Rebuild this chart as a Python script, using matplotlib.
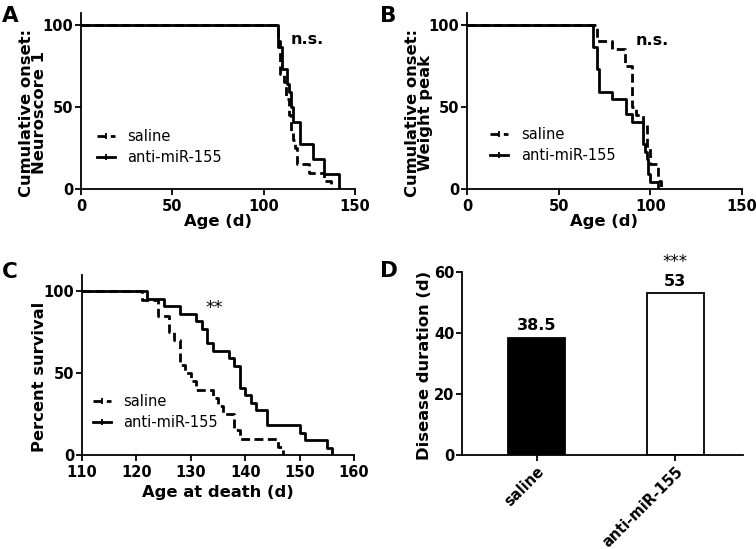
import matplotlib
matplotlib.use('Agg')
import matplotlib.pyplot as plt
from matplotlib.lines import Line2D

plt.rcParams['font.family'] = ['DejaVu Sans']
plt.rcParams['font.weight'] = 'bold'
plt.rcParams['axes.labelweight'] = 'bold'

# ---------------- data ----------------
# Panel A: cumulative onset, Neuroscore 1 (% remaining)
neuro_saline_days = [108, 109, 111, 112, 114, 115, 116, 117, 118, 125, 133, 137]
neuro_saline_pct = [90, 70, 65, 55, 45, 35, 30, 25, 15, 10, 5, 0]
neuro_anti_days = [108, 110, 113, 114, 115, 116, 120, 127, 133, 141]
neuro_anti_pct = [86.4, 72.7, 63.6, 59.1, 50.0, 40.9, 27.3, 18.2, 9.1, 0]

# Panel B: cumulative onset, weight peak
weight_saline_days = [71, 79, 86, 90, 92, 96, 98, 100, 104, 106]
weight_saline_pct = [90, 85, 75, 50, 45, 40, 25, 15, 5, 0]
weight_anti_days = [69, 71, 72, 79, 87, 90, 96, 97, 98, 99, 100, 104]
weight_anti_pct = [86.4, 72.7, 59.1, 54.5, 45.5, 40.9, 27.3, 22.7, 18.2, 9.1, 4.5, 0]

# Panel C: survival
surv_saline_days = [121, 124, 126, 127, 128, 129, 130, 131, 134, 135, 136, 138, 139, 146, 147]
surv_saline_pct = [95, 85, 75, 70, 55, 50, 45, 40, 35, 30, 25, 15, 10, 5, 0]
surv_anti_days = [122, 125, 128, 131, 132, 133, 134, 137, 138, 139, 140, 141, 142, 144, 150, 151, 155, 156]
surv_anti_pct = [95.5, 90.9, 86.4, 81.8, 77.3, 68.2, 63.6, 59.1, 54.5, 40.9, 36.4, 31.8, 27.3, 18.2,
                 13.6, 9.1, 4.5, 0]

# Panel D: disease duration
groups = ['saline', 'anti-miR-155']
duration = [38.5, 53]
duration_labels = ['38.5', '53']
duration_sig = ['', '***']

series_names = ['saline', 'anti-miR-155']

# ---------------- figure ----------------
W, H = 756, 549
fig = plt.figure(figsize=(W / 100, H / 100), dpi=100)


def px_axes(left, top, right, bottom):
    return fig.add_axes([left / W, 1 - bottom / H, (right - left) / W, (bottom - top) / H])


axA = px_axes(81, 13, 355, 189)
axB = px_axes(467, 13, 742, 189)
axC = px_axes(82, 275, 354, 455)
axD = px_axes(462, 272, 743, 455)

LW = 2.0
DASH = (0, (3.2, 1.6))
FS = 11.8
TFS = 10.5


def style(ax):
    for s in ['top', 'right']:
        ax.spines[s].set_visible(False)
    for s in ['left', 'bottom']:
        ax.spines[s].set_linewidth(1.3)
    ax.tick_params(direction='out', length=4.5, width=1.3, labelsize=TFS)
    ax.tick_params(axis='y', pad=1)
    ax.tick_params(axis='x', pad=3)


def km(ax, start, days, pct, **kw):
    xs = [start] + list(days)
    ys = [100] + list(pct)
    ax.step(xs, ys, where='post', color='black', lw=LW, **kw)


def legend(ax, anchor):
    handles = [Line2D([0], [0], color='black', lw=LW, ls=DASH, marker='|', markersize=4, markeredgewidth=1.3),
               Line2D([0], [0], color='black', lw=LW, marker='|', markersize=4, markeredgewidth=1.3)]
    ax.legend(handles, series_names, loc='center left', bbox_to_anchor=anchor, frameon=False,
              handlelength=1.25, handletextpad=0.85, labelspacing=0.4,
              prop={'weight': 'normal', 'size': 10.5},
              borderaxespad=0, borderpad=0)


# Panel A
style(axA)
km(axA, 0, neuro_saline_days, neuro_saline_pct, ls=DASH, zorder=2)
km(axA, 0, neuro_anti_days, neuro_anti_pct, zorder=3)
axA.set_xlim(0, 150)
axA.set_ylim(0, 107)
axA.set_xticks([0, 50, 100, 150])
axA.set_yticks([0, 50, 100])
axA.set_xlabel('Age (d)', fontsize=FS, labelpad=0)
axA.set_ylabel('Cumulative onset:\nNeuroscore 1', fontsize=FS, linespacing=0.85)
axA.yaxis.set_label_coords(-0.124, 0.432)
axA.text(124, 91, 'n.s.', ha='center', va='center', fontsize=11.5)
legend(axA, (0.058, 0.24))

# Panel B
style(axB)
km(axB, 0, weight_saline_days, weight_saline_pct, ls=DASH, zorder=2)
km(axB, 0, weight_anti_days, weight_anti_pct, zorder=3)
axB.set_xlim(0, 150)
axB.set_ylim(0, 107)
axB.set_xticks([0, 50, 100, 150])
axB.set_yticks([0, 50, 100])
axB.set_xlabel('Age (d)', fontsize=FS, labelpad=0)
axB.set_ylabel('Cumulative onset:\nWeight peak', fontsize=FS, linespacing=0.85)
axB.yaxis.set_label_coords(-0.124, 0.432)
axB.text(101, 90, 'n.s.', ha='center', va='center', fontsize=11.5)
legend(axB, (0.084, 0.25))

# Panel C
style(axC)
km(axC, 110, surv_saline_days, surv_saline_pct, ls=DASH, zorder=2)
km(axC, 110, surv_anti_days, surv_anti_pct, zorder=3)
axC.set_xlim(110, 160)
axC.set_ylim(0, 110)
axC.set_xticks([110, 120, 130, 140, 150, 160])
axC.set_yticks([0, 50, 100])
axC.set_xlabel('Age at death (d)', fontsize=FS, labelpad=3)
axC.set_ylabel('Percent survival', fontsize=FS)
axC.yaxis.set_label_coords(-0.13, 0.433)
axC.text(134.3, 90, '**', ha='center', va='center', fontsize=12.5, fontweight='normal')
legend(axC, (0.04, 0.24))

# Panel D
style(axD)
xpos = list(range(len(groups)))
axD.bar(xpos, duration, width=0.41, color=['black', 'white'], edgecolor='black', linewidth=1.3)
axD.set_xlim(-0.54, 1.49)
axD.set_ylim(0, 60)
axD.set_yticks([0, 20, 40, 60])
axD.set_xticks(xpos)
axD.set_xticklabels(groups, rotation=45, ha='right', rotation_mode='anchor')
axD.tick_params(axis='x', pad=2)
axD.set_ylabel('Disease duration (d)', fontsize=FS)
axD.yaxis.set_label_coords(-0.107, 0.492)
for x, v, lab, sig in zip(xpos, duration, duration_labels, duration_sig):
    axD.annotate(lab, (x, v), xytext=(0, 3), textcoords='offset points', ha='center', va='bottom',
                 fontsize=11.5)
    if sig:
        axD.annotate(sig, (x, v), xytext=(0, 16), textcoords='offset points', ha='center', va='bottom',
                     fontsize=12, fontweight='normal')

# Panel letters
for lab, x, y in [('A', 2, 22), ('B', 380, 22), ('C', 2, 278), ('D', 380, 277)]:
    fig.text(x / W, 1 - y / H, lab, ha='left', va='baseline', fontsize=15.5, fontweight='bold')

fig.savefig('out.png', dpi=100)
